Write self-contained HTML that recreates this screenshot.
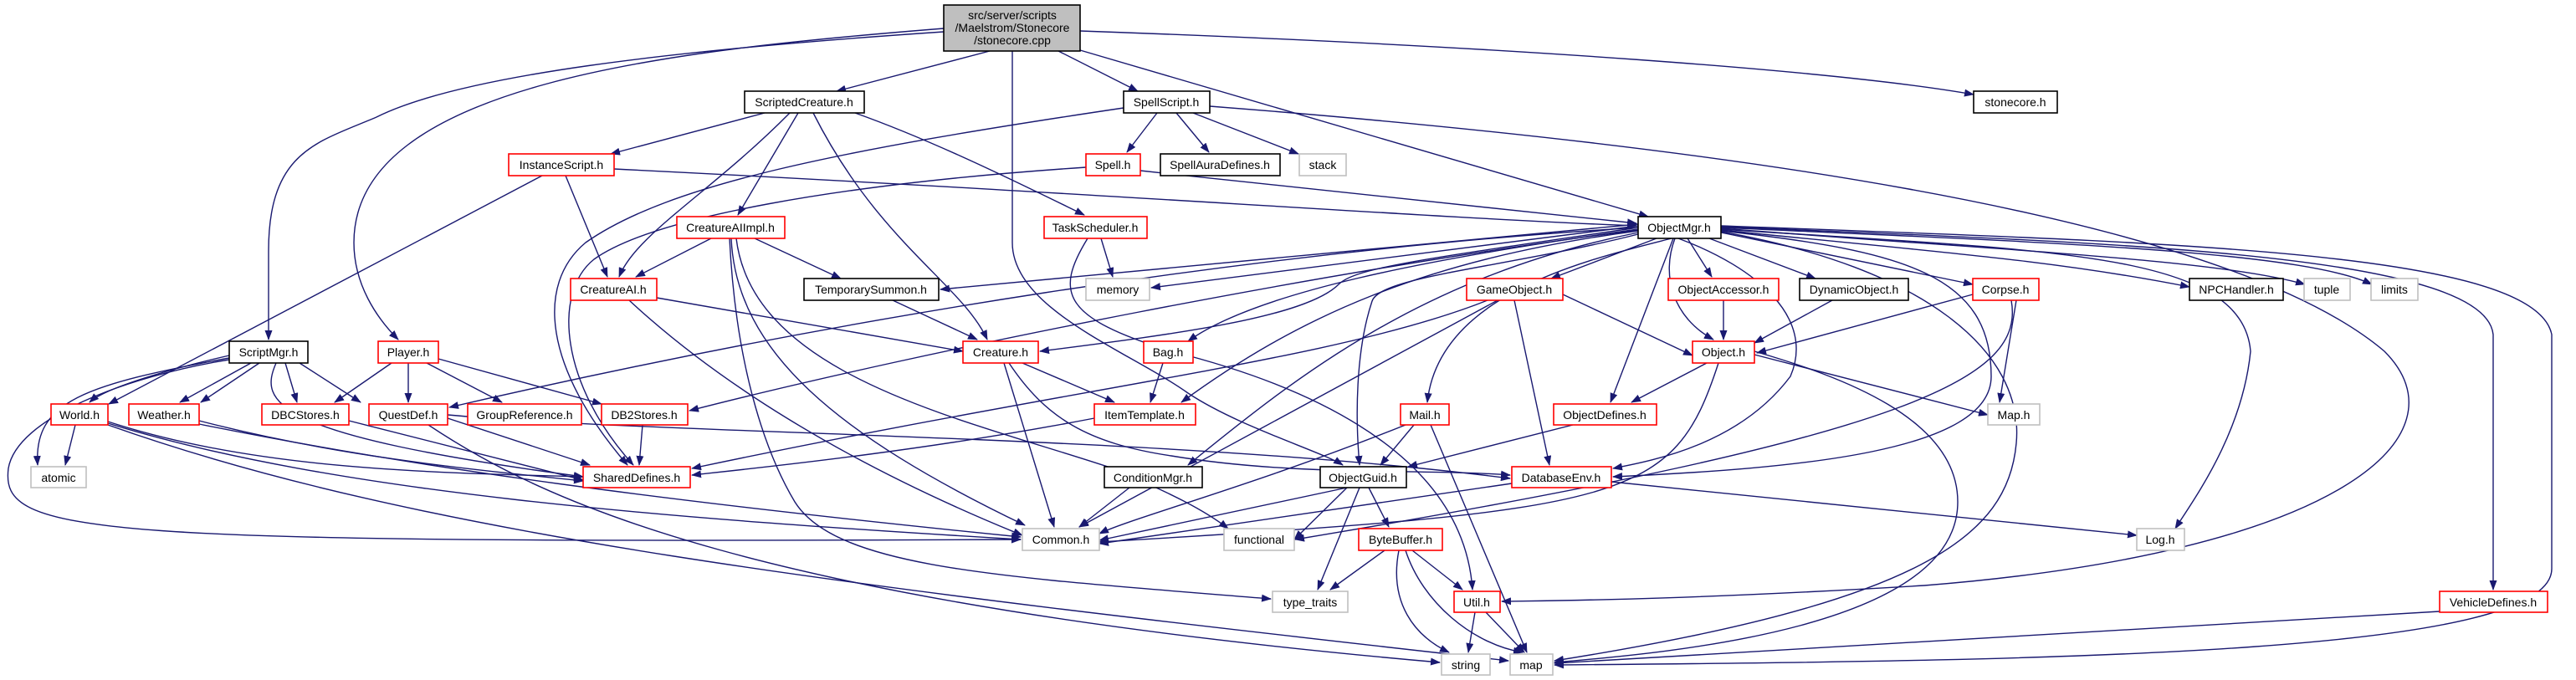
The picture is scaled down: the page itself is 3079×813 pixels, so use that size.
<!DOCTYPE html>
<html><head><meta charset="utf-8"><style>
html,body{margin:0;padding:0;background:#fff;}
svg{display:block;}
text{font-family:"Liberation Sans",Arial,sans-serif;font-size:14px;fill:#000;text-anchor:middle;}
.e{fill:none;stroke:#191970;stroke-width:1.4;marker-end:url(#a);}
.n{fill:#fff;stroke-width:1.6;}
.r{stroke:#ff0000;}.k{stroke:#000;}.g{stroke:#bfbfbf;}
</style></head><body>
<svg width="3079" height="813" viewBox="0 0 3079 813" xmlns="http://www.w3.org/2000/svg">
<defs><marker id="a" markerUnits="userSpaceOnUse" markerWidth="12" markerHeight="9" refX="11" refY="4.5" orient="auto"><path d="M0,0 L12,4.5 L0,9 z" fill="#191970"/></marker></defs>

<!-- edges -->
<path class="e" d="M1183,61 L1000,109"/>
<path class="e" d="M1265,61 L1360,109"/>
<path class="e" d="M1291,60 L1970,259"/>
<path class="e" d="M1291,37 C1800,55 2200,85 2359,113"/>
<path class="e" d="M1128,38 C800,60 550,90 450,140 C380,170 321,180 321,300 L321,406"/>
<path class="e" d="M1128,34 C800,60 423,100 423,290 C423,340 450,380 476,406"/>
<path class="e" d="M1210,61 L1210,290 C1210,370 1350,420 1420,470 C1480,510 1580,540 1605,556"/>

<path class="e" d="M914,135 L730,184"/>
<path class="e" d="M944,135 C850,230 760,280 740,331"/>
<path class="e" d="M954,135 L882,257"/>
<path class="e" d="M972,135 C1050,290 1150,340 1180,406"/>
<path class="e" d="M1022,135 C1120,170 1220,220 1296,257"/>

<path class="e" d="M1343,129 C1000,180 800,220 700,290 C640,340 650,440 750,556"/>
<path class="e" d="M1383,135 L1347,182"/>
<path class="e" d="M1406,135 L1445,182"/>
<path class="e" d="M1426,135 L1552,184"/>
<path class="e" d="M1446,127 C2000,170 2650,250 2850,420 C2950,520 2800,660 2300,700 C2000,718 1850,718 1795,719"/>
<path class="e" d="M1363,204 C1600,230 1850,255 1956,267"/>
<path class="e" d="M1298,200 C1000,220 780,260 710,310 C660,350 670,460 757,556"/>

<path class="e" d="M734,202 C1300,230 1700,260 1956,270"/>
<path class="e" d="M676,210 L726,331"/>
<path class="e" d="M648,210 L130,483"/>

<path class="e" d="M850,285 L760,331"/>
<path class="e" d="M902,285 L1005,333"/>
<path class="e" d="M874,285 C880,420 1000,520 1225,628"/>
<path class="e" d="M880,285 C900,450 1150,500 1330,560 C1400,590 1440,610 1468,632"/>
<path class="e" d="M872,285 C880,450 920,550 950,600 C1000,680 1200,690 1519,716"/>

<path class="e" d="M785,356 L1151,420"/>
<path class="e" d="M752,359 C850,450 1000,550 1222,640"/>
<path class="e" d="M1300,285 C1260,350 1270,380 1400,420 C1600,470 1750,560 1760,705"/>
<path class="e" d="M1316,285 L1330,331"/>
<path class="e" d="M1067,359 L1168,406"/>

<path class="e" d="M1200,434 L1260,630"/>
<path class="e" d="M1222,434 L1332,481"/>
<path class="e" d="M1206,434 C1250,500 1300,530 1400,545 C1550,570 1700,560 1805,568"/>
<path class="e" d="M1390,434 L1375,481"/>
<path class="e" d="M1308,500 C1100,540 900,560 827,568"/>
<path class="e" d="M1350,583 L1290,630"/>

<path class="e" d="M274,425 C230,435 130,460 107,481"/>
<path class="e" d="M300,434 L215,481"/>
<path class="e" d="M330,434 C310,480 320,520 697,570"/>
<path class="e" d="M341,434 L355,481"/>
<path class="e" d="M358,434 L431,481"/>
<path class="e" d="M310,434 L240,481"/>
<path class="e" d="M274,428 C100,460 40,480 45,556"/>
<path class="e" d="M274,430 C150,450 20,500 10,560 C0,640 100,650 1220,645"/>

<path class="e" d="M468,434 L400,481"/>
<path class="e" d="M488,434 L488,481"/>
<path class="e" d="M510,434 L600,481"/>
<path class="e" d="M524,429 L719,483"/>
<path class="e" d="M1958,272 C1500,300 1000,380 537,487"/>
<path class="e" d="M1958,275 C1600,320 1100,420 824,491"/>

<path class="e" d="M90,508 L78,556"/>
<path class="e" d="M129,504 C300,560 500,565 697,570"/>
<path class="e" d="M129,506 C400,590 800,620 1220,645"/>
<path class="e" d="M129,508 C500,640 1000,700 1803,790"/>
<path class="e" d="M238,503 C400,545 550,560 697,575"/>
<path class="e" d="M238,507 C500,560 800,600 1220,642"/>
<path class="e" d="M417,503 L697,574"/>
<path class="e" d="M535,500 L705,556"/>
<path class="e" d="M535,496 C800,520 1400,520 1805,572"/>
<path class="e" d="M512,508 C650,600 900,720 1721,792"/>
<path class="e" d="M768,508 L764,556"/>

<!-- ObjectMgr fan -->
<path class="e" d="M1958,268 L1124,346"/>
<path class="e" d="M1958,270 L1376,344"/>
<path class="e" d="M1958,272 C1700,310 1620,320 1600,340 C1560,380 1400,400 1243,420"/>
<path class="e" d="M1958,274 C1700,310 1500,350 1420,408"/>
<path class="e" d="M1958,276 C1700,310 1550,380 1412,481"/>
<path class="e" d="M1958,278 C1700,330 1550,450 1420,556"/>
<path class="e" d="M1980,285 L1854,333"/>
<path class="e" d="M2017,285 L2046,331"/>
<path class="e" d="M2043,285 L2170,333"/>
<path class="e" d="M2002,285 C1985,330 2000,380 2048,406"/>
<path class="e" d="M2000,285 L1925,481"/>
<path class="e" d="M1998,285 C1900,310 1720,350 1706,481"/>
<path class="e" d="M2006,285 C2100,320 2170,380 2140,450 C2080,530 1980,550 1928,560"/>
<path class="e" d="M2057,278 L2358,340"/>
<path class="e" d="M2057,275 C2300,300 2450,310 2617,343"/>
<path class="e" d="M2057,273 C2400,300 2650,310 2755,340"/>
<path class="e" d="M2057,272 C2450,290 2750,300 2835,340"/>
<path class="e" d="M2057,276 C2280,300 2380,330 2380,450 C2380,540 2150,560 1928,570"/>
<path class="e" d="M2057,274 C2450,300 2680,300 2690,420 C2680,520 2620,600 2600,632"/>
<path class="e" d="M2057,271 C2500,290 2970,300 2980,400 L2980,705"/>
<path class="e" d="M2057,270 C2600,290 3030,300 3050,400 L3050,680 C3050,780 2500,790 1858,795"/>
<path class="e" d="M2057,277 C2300,320 2420,420 2410,530 C2400,640 2300,720 1858,790"/>
<path class="e" d="M1958,280 C1800,320 1650,330 1640,360 C1620,420 1620,500 1625,556"/>

<path class="e" d="M1868,352 L2023,425"/>
<path class="e" d="M1778,359 C1600,430 1300,460 827,560"/>
<path class="e" d="M1790,359 L1290,630"/>
<path class="e" d="M1810,359 L1852,556"/>
<path class="e" d="M2060,359 L2060,406"/>
<path class="e" d="M2190,359 L2097,410"/>
<path class="e" d="M2358,352 L2100,422"/>
<path class="e" d="M2410,359 L2390,481"/>
<path class="e" d="M2404,359 C2420,450 2300,520 1548,645"/>

<path class="e" d="M2040,434 L1950,481"/>
<path class="e" d="M2054,434 C2000,600 1950,610 1314,648"/>
<path class="e" d="M2097,424 L2376,496"/>
<path class="e" d="M2097,420 C2200,450 2340,500 2340,600 C2340,750 2000,780 1858,792"/>

<path class="e" d="M1880,508 L1683,558"/>
<path class="e" d="M1690,508 L1650,556"/>
<path class="e" d="M1680,508 C1500,580 1350,620 1314,638"/>
<path class="e" d="M1710,508 L1825,780"/>
<path class="e" d="M1926,576 L2554,640"/>
<path class="e" d="M1807,578 L1314,650"/>

<path class="e" d="M1610,583 L1314,646"/>
<path class="e" d="M1610,583 L1547,645" />
<path class="e" d="M1636,583 L1660,630"/>
<path class="e" d="M1625,583 L1575,705"/>
<path class="e" d="M1655,658 L1590,705"/>
<path class="e" d="M1688,658 L1748,705"/>
<path class="e" d="M1672,658 C1660,720 1690,760 1732,780"/>
<path class="e" d="M1680,658 C1700,720 1760,770 1820,780"/>
<path class="e" d="M1763,732 L1755,780"/>
<path class="e" d="M1776,732 L1822,780"/>
<path class="e" d="M2916,731 L1858,793"/>

<!-- nodes -->
<rect x="1128" y="6" width="163" height="55" fill="#bfbfbf" stroke="#000" stroke-width="1.6"/>
<text x="1210" y="23">src/server/scripts</text>
<text x="1210" y="38">/Maelstrom/Stonecore</text>
<text x="1210" y="53">/stonecore.cpp</text>

<g>
<rect class="n k" x="890" y="109" width="143" height="26"/><text x="961" y="127">ScriptedCreature.h</text>
<rect class="n k" x="1343" y="109" width="103" height="26"/><text x="1394" y="127">SpellScript.h</text>
<rect class="n k" x="2359" y="109" width="100" height="26"/><text x="2409" y="127">stonecore.h</text>
<rect class="n r" x="608" y="184" width="126" height="26"/><text x="671" y="202">InstanceScript.h</text>
<rect class="n r" x="1298" y="184" width="65" height="26"/><text x="1330" y="202">Spell.h</text>
<rect class="n k" x="1387" y="184" width="143" height="26"/><text x="1458" y="202">SpellAuraDefines.h</text>
<rect class="n g" x="1553" y="184" width="56" height="26"/><text x="1581" y="202">stack</text>
<rect class="n r" x="809" y="259" width="129" height="26"/><text x="873" y="277">CreatureAIImpl.h</text>
<rect class="n r" x="1248" y="259" width="123" height="26"/><text x="1309" y="277">TaskScheduler.h</text>
<rect class="n k" x="1958" y="259" width="99" height="26"/><text x="2007" y="277">ObjectMgr.h</text>
<rect class="n r" x="682" y="333" width="103" height="26"/><text x="733" y="351">CreatureAI.h</text>
<rect class="n k" x="961" y="333" width="161" height="26"/><text x="1041" y="351">TemporarySummon.h</text>
<rect class="n g" x="1298" y="333" width="76" height="26"/><text x="1336" y="351">memory</text>
<rect class="n r" x="1753" y="333" width="115" height="26"/><text x="1810" y="351">GameObject.h</text>
<rect class="n r" x="1994" y="333" width="132" height="26"/><text x="2060" y="351">ObjectAccessor.h</text>
<rect class="n k" x="2151" y="333" width="130" height="26"/><text x="2216" y="351">DynamicObject.h</text>
<rect class="n r" x="2358" y="333" width="79" height="26"/><text x="2397" y="351">Corpse.h</text>
<rect class="n k" x="2617" y="333" width="112" height="26"/><text x="2673" y="351">NPCHandler.h</text>
<rect class="n g" x="2754" y="333" width="55" height="26"/><text x="2781" y="351">tuple</text>
<rect class="n g" x="2834" y="333" width="56" height="26"/><text x="2862" y="351">limits</text>
<rect class="n k" x="274" y="408" width="94" height="26"/><text x="321" y="426">ScriptMgr.h</text>
<rect class="n r" x="452" y="408" width="72" height="26"/><text x="488" y="426">Player.h</text>
<rect class="n r" x="1151" y="408" width="90" height="26"/><text x="1196" y="426">Creature.h</text>
<rect class="n r" x="1367" y="408" width="59" height="26"/><text x="1396" y="426">Bag.h</text>
<rect class="n r" x="2023" y="408" width="74" height="26"/><text x="2060" y="426">Object.h</text>
<rect class="n r" x="61" y="483" width="68" height="25"/><text x="95" y="501">World.h</text>
<rect class="n r" x="154" y="483" width="84" height="25"/><text x="196" y="501">Weather.h</text>
<rect class="n r" x="313" y="483" width="104" height="25"/><text x="365" y="501">DBCStores.h</text>
<rect class="n r" x="441" y="483" width="94" height="25"/><text x="488" y="501">QuestDef.h</text>
<rect class="n r" x="559" y="483" width="136" height="25"/><text x="627" y="501">GroupReference.h</text>
<rect class="n r" x="719" y="483" width="103" height="25"/><text x="770" y="501">DB2Stores.h</text>
<rect class="n r" x="1308" y="483" width="121" height="25"/><text x="1368" y="501">ItemTemplate.h</text>
<rect class="n r" x="1674" y="483" width="58" height="25"/><text x="1703" y="501">Mail.h</text>
<rect class="n r" x="1857" y="483" width="123" height="25"/><text x="1918" y="501">ObjectDefines.h</text>
<rect class="n g" x="2376" y="483" width="62" height="25"/><text x="2407" y="501">Map.h</text>
<rect class="n g" x="37" y="558" width="66" height="25"/><text x="70" y="576">atomic</text>
<rect class="n r" x="697" y="558" width="128" height="25"/><text x="761" y="576">SharedDefines.h</text>
<rect class="n k" x="1320" y="558" width="117" height="25"/><text x="1378" y="576">ConditionMgr.h</text>
<rect class="n k" x="1578" y="558" width="103" height="25"/><text x="1629" y="576">ObjectGuid.h</text>
<rect class="n r" x="1807" y="558" width="119" height="25"/><text x="1866" y="576">DatabaseEnv.h</text>
<rect class="n g" x="1222" y="632" width="92" height="26"/><text x="1268" y="650">Common.h</text>
<rect class="n g" x="1463" y="632" width="84" height="26"/><text x="1505" y="650">functional</text>
<rect class="n r" x="1624" y="632" width="100" height="26"/><text x="1674" y="650">ByteBuffer.h</text>
<rect class="n g" x="2554" y="632" width="57" height="26"/><text x="2582" y="650">Log.h</text>
<rect class="n g" x="1521" y="707" width="90" height="25"/><text x="1566" y="725">type_traits</text>
<rect class="n r" x="1738" y="707" width="55" height="25"/><text x="1765" y="725">Util.h</text>
<rect class="n r" x="2916" y="707" width="129" height="25"/><text x="2980" y="725">VehicleDefines.h</text>
<rect class="n g" x="1723" y="782" width="58" height="25"/><text x="1752" y="800">string</text>
<rect class="n g" x="1805" y="782" width="51" height="25"/><text x="1830" y="800">map</text>
</g>
</svg>
</body></html>
